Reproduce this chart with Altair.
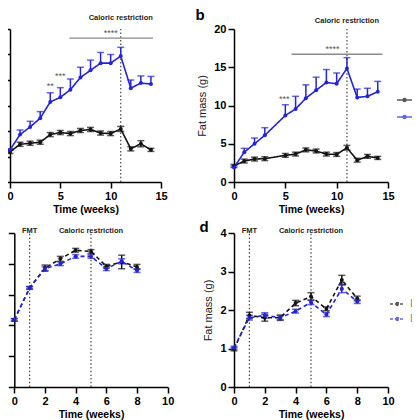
import altair as alt
import pandas as pd

FONT = "Liberation Sans"
BLACK = "#141414"
BLUE = "#2424d4"
GROUPS = ["Lean", "DIO"]

# ---------------- data ----------------
# panel a (y units unknown, axis labels cropped)
a_weeks = list(range(15))
a_lean_mean = [5.9, 7.4, 7.6, 7.8, 9.3, 9.7, 9.5, 10.1, 10.3, 9.6, 9.5, 10.4, 6.5, 7.5, 6.3]
a_lean_sem = [0.3, 0.4, 0.4, 0.4, 0.4, 0.4, 0.4, 0.4, 0.4, 0.4, 0.4, 0.5, 0.4, 0.6, 0.3]
a_dio_mean = [6.3, 9.3, 10.8, 12.5, 15.7, 16.6, 18.1, 20.5, 21.9, 23.3, 23.3, 24.7, 18.4, 19.4, 19.2]
a_dio_sem = [0.2, 0.9, 1.1, 1.3, 1.8, 1.9, 2.1, 2.0, 2.0, 2.1, 1.7, 1.7, 1.6, 1.4, 1.5]

# panel b: fat mass (g)
b_weeks = [0, 1, 2, 3, 5, 6, 7, 8, 9, 10, 11, 12, 13, 14]
b_lean_mean = [2.1, 2.74, 3.0, 3.05, 3.48, 3.65, 4.2, 4.05, 3.65, 3.6, 4.48, 2.85, 3.35, 3.15]
b_lean_sem = [0.2, 0.25, 0.25, 0.25, 0.25, 0.25, 0.25, 0.25, 0.25, 0.25, 0.3, 0.25, 0.25, 0.2]
b_dio_mean = [1.9, 3.9, 5.0, 6.1, 8.7, 9.55, 10.95, 12.0, 13.0, 12.85, 14.85, 11.05, 11.2, 11.8]
b_dio_sem = [0.2, 0.5, 0.75, 1.0, 1.4, 1.65, 1.75, 1.7, 1.7, 1.4, 1.4, 1.1, 1.05, 1.35]

# panel c
c_weeks = list(range(9))
c_lean_mean = [10.9, 16.1, 19.3, 20.8, 22.2, 22.0, 19.6, 20.3, 19.5]
c_lean_sem = [0.2, 0.2, 0.5, 0.4, 0.3, 0.3, 0.3, 1.1, 0.4]
c_dio_mean = [10.9, 16.1, 19.2, 20.0, 21.2, 21.2, 19.2, 20.4, 18.9]
c_dio_sem = [0.2, 0.2, 0.3, 0.3, 0.3, 0.3, 0.3, 0.4, 0.3]

# panel d: fat mass (g)
d_weeks = list(range(9))
d_lean_mean = [0.98, 1.86, 1.80, 1.80, 2.18, 2.35, 2.03, 2.78, 2.30]
d_lean_sem = [0.04, 0.08, 0.09, 0.07, 0.07, 0.10, 0.05, 0.12, 0.06]
d_dio_mean = [1.02, 1.80, 1.86, 1.80, 1.97, 2.20, 1.88, 2.55, 2.22]
d_dio_sem = [0.04, 0.06, 0.07, 0.05, 0.05, 0.06, 0.05, 0.10, 0.05]

# annotations
a_sig_line = {"start": 5.9, "end": 14.2, "level": 28.2, "label_x": 10.0, "label_y": 29.3}
a_stars = {"week": [4.0, 5.0], "val": [18.9, 20.7], "t": ["**", "***"]}
b_sig_line = {"start": 5.6, "end": 14.45, "level": 16.7, "label_x": 9.6, "label_y": 17.4}
b_stars = {"week": [4.9], "val": [10.8], "t": ["***"]}


def series_frame(weeks, lean_m, lean_s, dio_m, dio_s, dio_upper_only):
    rows = []
    for w, m, s in zip(weeks, lean_m, lean_s):
        rows.append({"week": w, "val": m, "lo": m - s, "hi": m + s, "grp": "Lean"})
    for w, m, s in zip(weeks, dio_m, dio_s):
        lo = m if dio_upper_only else m - s
        rows.append({"week": w, "val": m, "lo": lo, "hi": m + s, "grp": "DIO"})
    return pd.DataFrame(rows)


def caps_frame(df, dio_upper_only):
    rows = []
    for _, r in df.iterrows():
        rows.append({"week": r.week, "cap": r.hi, "grp": r.grp})
        if not (dio_upper_only and r.grp == "DIO"):
            rows.append({"week": r.week, "cap": r.lo, "grp": r.grp})
    return pd.DataFrame(rows)


color_scale = alt.Scale(domain=GROUPS, range=[BLACK, BLUE])
LEG_PATH = "M-1,0L1,0M-0.2,0A0.2,0.2 0 1,0 0.2,0A0.2,0.2 0 1,0 -0.2,0"


def panel(df, caps, xdom, xvals, xrange_, ydom, yvals, ytitle, ylabels, yoffset,
          vlines, texts, text_dy, dashed, legend, letter, sig=None, stars=None):
    xs = alt.Scale(domain=xdom, nice=False)
    if xrange_ is not None:
        xs = alt.Scale(domain=xdom, nice=False, range=xrange_)
    xax = alt.Axis(values=xvals, title="Time (weeks)", labelFlush=False, labelOverlap=False)
    yax = alt.Axis(values=yvals, title=ytitle, labels=ylabels, offset=yoffset,
                   labelFlush=False, labelOverlap=False)
    X = alt.X("week:Q", scale=xs, axis=xax)
    Y = lambda f: alt.Y(f, scale=alt.Scale(domain=ydom, nice=False), axis=yax)
    # same legend definition in every layer so that the merged legend is kept
    C = alt.Color("grp:N", scale=color_scale, legend=legend)

    dash = [4, 3] if dashed else [1, 0]
    layers = []
    vdf = pd.DataFrame({"week": vlines, "y0": [ydom[0]] * len(vlines), "y1": [ydom[1]] * len(vlines)})
    layers.append(alt.Chart(vdf).mark_rule(color="#444", strokeWidth=1.2, strokeDash=[1.5, 2.2])
                  .encode(x=X, y=Y("y0:Q"), y2="y1:Q"))
    if sig is not None:
        sdf = pd.DataFrame({"week": [sig["start"]], "week2": [sig["end"]], "val": [sig["level"]]})
        layers.append(alt.Chart(sdf).mark_rule(color="#8a8a8a", strokeWidth=1.3)
                      .encode(x=X, x2="week2:Q", y=Y("val:Q")))
        ldf = pd.DataFrame({"week": [sig["label_x"]], "val": [sig["label_y"]], "t": ["****"]})
        layers.append(alt.Chart(ldf).mark_text(font=FONT, fontSize=9, color="#555")
                      .encode(x=X, y=Y("val:Q"), text="t:N"))
    if stars is not None:
        layers.append(alt.Chart(pd.DataFrame(stars)).mark_text(font=FONT, fontSize=9, color="#555")
                      .encode(x=X, y=Y("val:Q"), text="t:N"))
    layers.append(alt.Chart(df).mark_rule(strokeWidth=1.5)
                  .encode(x=X, y=Y("lo:Q"), y2="hi:Q", color=C))
    layers.append(alt.Chart(caps).mark_tick(orient="horizontal", size=7, thickness=1.5)
                  .encode(x=X, y=Y("cap:Q"), color=C))
    layers.append(alt.Chart(df).mark_line(strokeWidth=1.6, strokeDash=dash)
                  .encode(x=X, y=Y("val:Q"), color=C, order=alt.Order("week:Q")))
    layers.append(alt.Chart(df).mark_point(filled=True, size=16, opacity=1)
                  .encode(x=X, y=Y("val:Q"), color=C))
    tdf = pd.DataFrame({"week": [t[0] for t in texts], "t": [t[1] for t in texts]})
    layers.append(alt.Chart(tdf).mark_text(font=FONT, fontSize=7.5, fontWeight="bold",
                                           color="#222", baseline="middle")
                  .encode(x=X, y=alt.value(text_dy), text="t:N"))
    if letter is not None:
        ltr = pd.DataFrame({"t": [letter[0]]})
        layers.append(alt.Chart(ltr).mark_text(font=FONT, fontSize=15, fontWeight="bold",
                                               color="black", baseline="alphabetic", align="center")
                      .encode(x=alt.value(letter[1]), y=alt.value(letter[2]), text="t:N"))
    return alt.layer(*layers)


def leg(x, y, dash, row_pad):
    return alt.Legend(orient="none", legendX=x, legendY=y, title=None,
                      symbolType=LEG_PATH, symbolSize=225, symbolStrokeWidth=1.5,
                      symbolDash=dash, symbolFillColor="transparent",
                      labelFont=FONT, labelFontSize=11,
                      labelColor="#888", rowPadding=row_pad, padding=0)


dfa = series_frame(a_weeks, a_lean_mean, a_lean_sem, a_dio_mean, a_dio_sem, True)
dfb = series_frame(b_weeks, b_lean_mean, b_lean_sem, b_dio_mean, b_dio_sem, True)
dfc = series_frame(c_weeks, c_lean_mean, c_lean_sem, c_dio_mean, c_dio_sem, False)
dfd = series_frame(d_weeks, d_lean_mean, d_lean_sem, d_dio_mean, d_dio_sem, False)

pa = panel(dfa, caps_frame(dfa, True), [0, 15], [0, 5, 10, 15], None,
           [0, 30], list(range(0, 31, 5)), None, False, 0,
           [11], [(11, "Caloric restriction")], -11, False, None, None,
           sig=a_sig_line, stars=a_stars).properties(width=151, height=153)
pb = panel(dfb, caps_frame(dfb, True), [0, 15], [0, 5, 10, 15], None,
           [0, 20], [0, 5, 10, 15, 20], "Fat mass (g)", True, 0,
           [11], [(11, "Caloric restriction")], -8, False,
           leg(162, 62.5, [1, 0], 3), ("b", -34, -9),
           sig=b_sig_line, stars=b_stars).properties(width=154, height=153)
pc = panel(dfc, caps_frame(dfc, False), [0, 10], [0, 2, 4, 6, 8, 10], [4.3, 157.7],
           [0, 25], [0, 5, 10, 15, 20, 25], None, False, -4.3,
           [1, 5], [(1, "FMT"), (5, "Caloric restriction")], -2.5, True, None, None
           ).properties(width=158, height=154)
pd_ = panel(dfd, caps_frame(dfd, False), [0, 10], [0, 2, 4, 6, 8, 10], None,
            [0, 4], [0, 1, 2, 3, 4], "Fat mass (g)", True, 0,
            [1, 5], [(1, "FMT"), (5, "Caloric restriction")], -2.5, True,
            leg(155, 62.5, [3, 2], 1), ("d", -30, -1)
            ).properties(width=154, height=154)

chart = alt.concat(pa, pb, pc, pd_, columns=2, bounds="flush", align="each",
                   spacing=alt.RowColnumber(row=51, column=66)
                   ).resolve_scale(color="independent", x="independent", y="independent"
                   ).properties(padding={"left": -5, "top": 0, "right": -30, "bottom": 0}
                   ).configure_view(stroke=None
                   ).configure_axis(domainColor="black", domainWidth=1.5, tickColor="black",
                                    tickWidth=1.5, tickSize=6, grid=False,
                                    labelFont=FONT, labelFontSize=11, labelFontWeight="bold",
                                    labelColor="black", labelPadding=2,
                                    titleFont=FONT, titleFontSize=10.5, titleFontWeight="bold",
                                    titleColor="black", titlePadding=3
                   ).configure_axisY(titleFontWeight="normal", titleFontSize=11, titlePadding=6,
                                     titleColor="#222")

chart.save("out.html", embed_options={"renderer": "svg", "actions": False})
